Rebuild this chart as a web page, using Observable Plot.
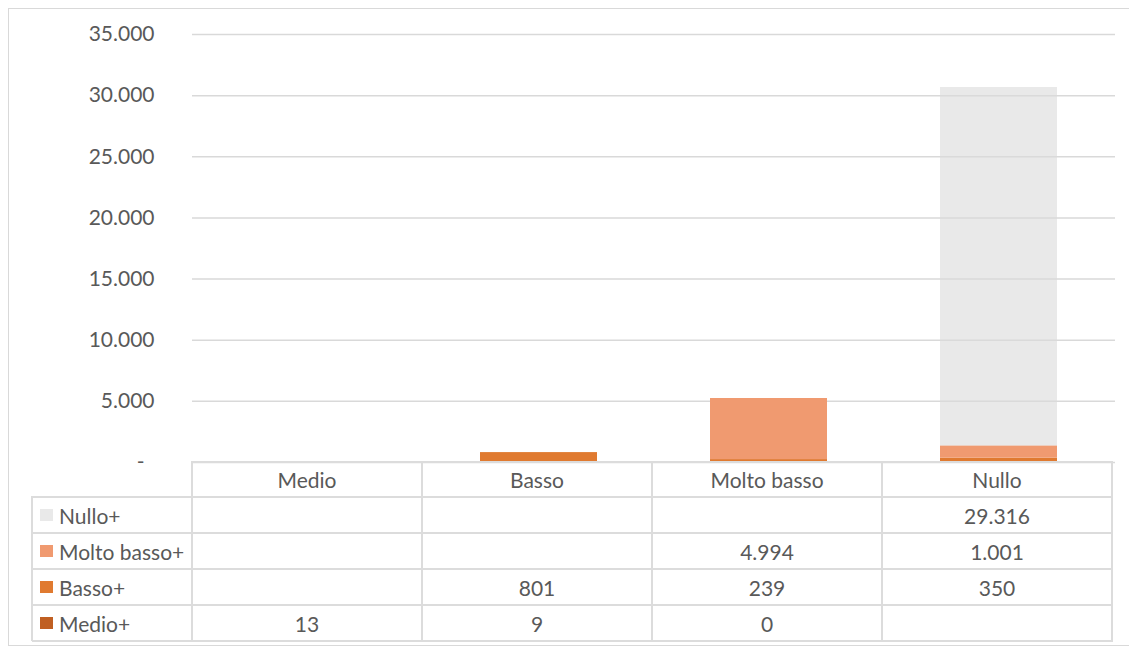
<!DOCTYPE html>
<html><head><meta charset="utf-8">
<script src="https://cdn.jsdelivr.net/npm/d3@7"></script>
<script src="https://cdn.jsdelivr.net/npm/@observablehq/plot@0.6"></script>
<style>
body{margin:0;background:#fff;font-family:Lato,sans-serif;color:#595959;}
#wrap{position:relative;width:1129px;height:648px;overflow:hidden;}
#frame{position:absolute;left:8px;top:8px;width:1140px;height:638px;border:1px solid #d9d9d9;box-sizing:border-box;}
#chart{position:absolute;left:0;top:0;}
.ln{position:absolute;background:#dcdcdc;}
.cell{position:absolute;display:flex;align-items:center;justify-content:center;font-size:21px;color:#595959;white-space:nowrap;}
.leg{position:absolute;display:flex;align-items:center;font-size:21px;color:#595959;white-space:nowrap;}
.sw{width:13px;height:12px;margin-right:6px;display:inline-block;}
</style></head>
<body><div id="wrap"><div id="frame"></div><div id="chart"></div><div id="table"></div></div>
<script>
const categories = ["Medio", "Basso", "Molto basso", "Nullo"];
const series = ["Medio+", "Basso+", "Molto basso+", "Nullo+"];
const seriesColors = ["#c05f22", "#e07a30", "#f09a70", "#e9e9e9"];
const barFills = ["#c05f22", "#e07a30", "#f09a70", "#dadada"];
const barOpacity = [1, 1, 1, 0.6];
const valuesMedio = [13, 9, 0, null];
const valuesBasso = [null, 801, 239, 350];
const valuesMoltoBasso = [null, null, 4994, 1001];
const valuesNullo = [null, null, null, 29316];
const yTicks = [0, 5000, 10000, 15000, 20000, 25000, 30000, 35000];

const seriesValues = [valuesMedio, valuesBasso, valuesMoltoBasso, valuesNullo];
const data = [];
series.forEach((s, si) => {
  categories.forEach((c, ci) => {
    const v = seriesValues[si][ci];
    if (v !== null) data.push({cat: c, s: si, value: v});
  });
});

const fmt = d => d3.format(",")(d).replace(/,/g, ".");

const chart = Plot.plot({
  width: 1129, height: 484,
  marginLeft: 192, marginRight: 14, marginTop: 34, marginBottom: 22,
  style: {fontFamily: "Lato, sans-serif", fontSize: "21px", color: "#595959", background: "transparent", overflow: "visible"},
  x: {domain: categories, paddingInner: 0.49, paddingOuter: 0.245, axis: null},
  y: {domain: [0, 35000], label: null},
  marks: [
    Plot.gridY(yTicks, {stroke: "#d9d9d9", strokeOpacity: 1, strokeWidth: 1.5}),
    Plot.barY(data, {x: "cat", y: "value", fill: d => barFills[d.s], fillOpacity: d => barOpacity[d.s], order: null}),
    Plot.axisY(yTicks.filter(t => t !== 0), {tickSize: 0, tickPadding: 38, tickFormat: fmt, fontSize: 21, fill: "#595959", label: null}),
    Plot.axisY([0], {tickSize: 0, tickPadding: 48, tickFormat: () => "-", fontSize: 21, fill: "#595959", label: null})
  ]
});
document.getElementById("chart").appendChild(chart);

// data table
const xs = chart.scale("x");
const step = xs.step;
const x0 = xs.range[0];
const colEdges = categories.map((c, i) => x0 + i * step).concat([x0 + categories.length * step]);
const tableLeft = 32;
const headTop = 462, headBottom = 497, rowH = 36;
const rowTops = [497, 533, 569, 605, 641];
const tbl = document.getElementById("table");
function line(l, t, w, h) {
  const d = document.createElement("div");
  d.className = "ln";
  Object.assign(d.style, {left: l + "px", top: t + "px", width: w + "px", height: h + "px"});
  tbl.appendChild(d);
}
const lw = 2;
line(colEdges[0], headTop - 1, colEdges[4] - colEdges[0] + 1, lw);
rowTops.forEach(t => line(tableLeft, t - 1, colEdges[4] - tableLeft + 1, lw));
colEdges.forEach(x => line(x - 1, headTop - 1, lw, rowTops[4] - headTop + 1));
line(tableLeft - 1, rowTops[0] - 1, lw, rowTops[4] - rowTops[0] + 1);

function cell(text, l, t, w, h) {
  const d = document.createElement("div");
  d.className = "cell";
  Object.assign(d.style, {left: l + "px", top: t + "px", width: w + "px", height: h + "px"});
  d.textContent = text;
  tbl.appendChild(d);
}
categories.forEach((c, i) => cell(c, colEdges[i], headTop, step, headBottom - headTop));
const fmtNum = v => v === null ? "" : d3.format(",")(v).replace(/,/g, ".");
// rows from top: Nullo+, Molto basso+, Basso+, Medio+
const rowOrder = [3, 2, 1, 0];
rowOrder.forEach((si, r) => {
  const t = rowTops[r];
  const lg = document.createElement("div");
  lg.className = "leg";
  Object.assign(lg.style, {left: (tableLeft + 8) + "px", top: t + "px", height: rowH + "px"});
  lg.innerHTML = `<span class="sw" style="background:${seriesColors[si]}"></span>`;
  lg.appendChild(document.createTextNode(series[si]));
  tbl.appendChild(lg);
  categories.forEach((c, ci) => cell(fmtNum(seriesValues[si][ci]), colEdges[ci], t, step, rowH));
});
</script></body></html>
